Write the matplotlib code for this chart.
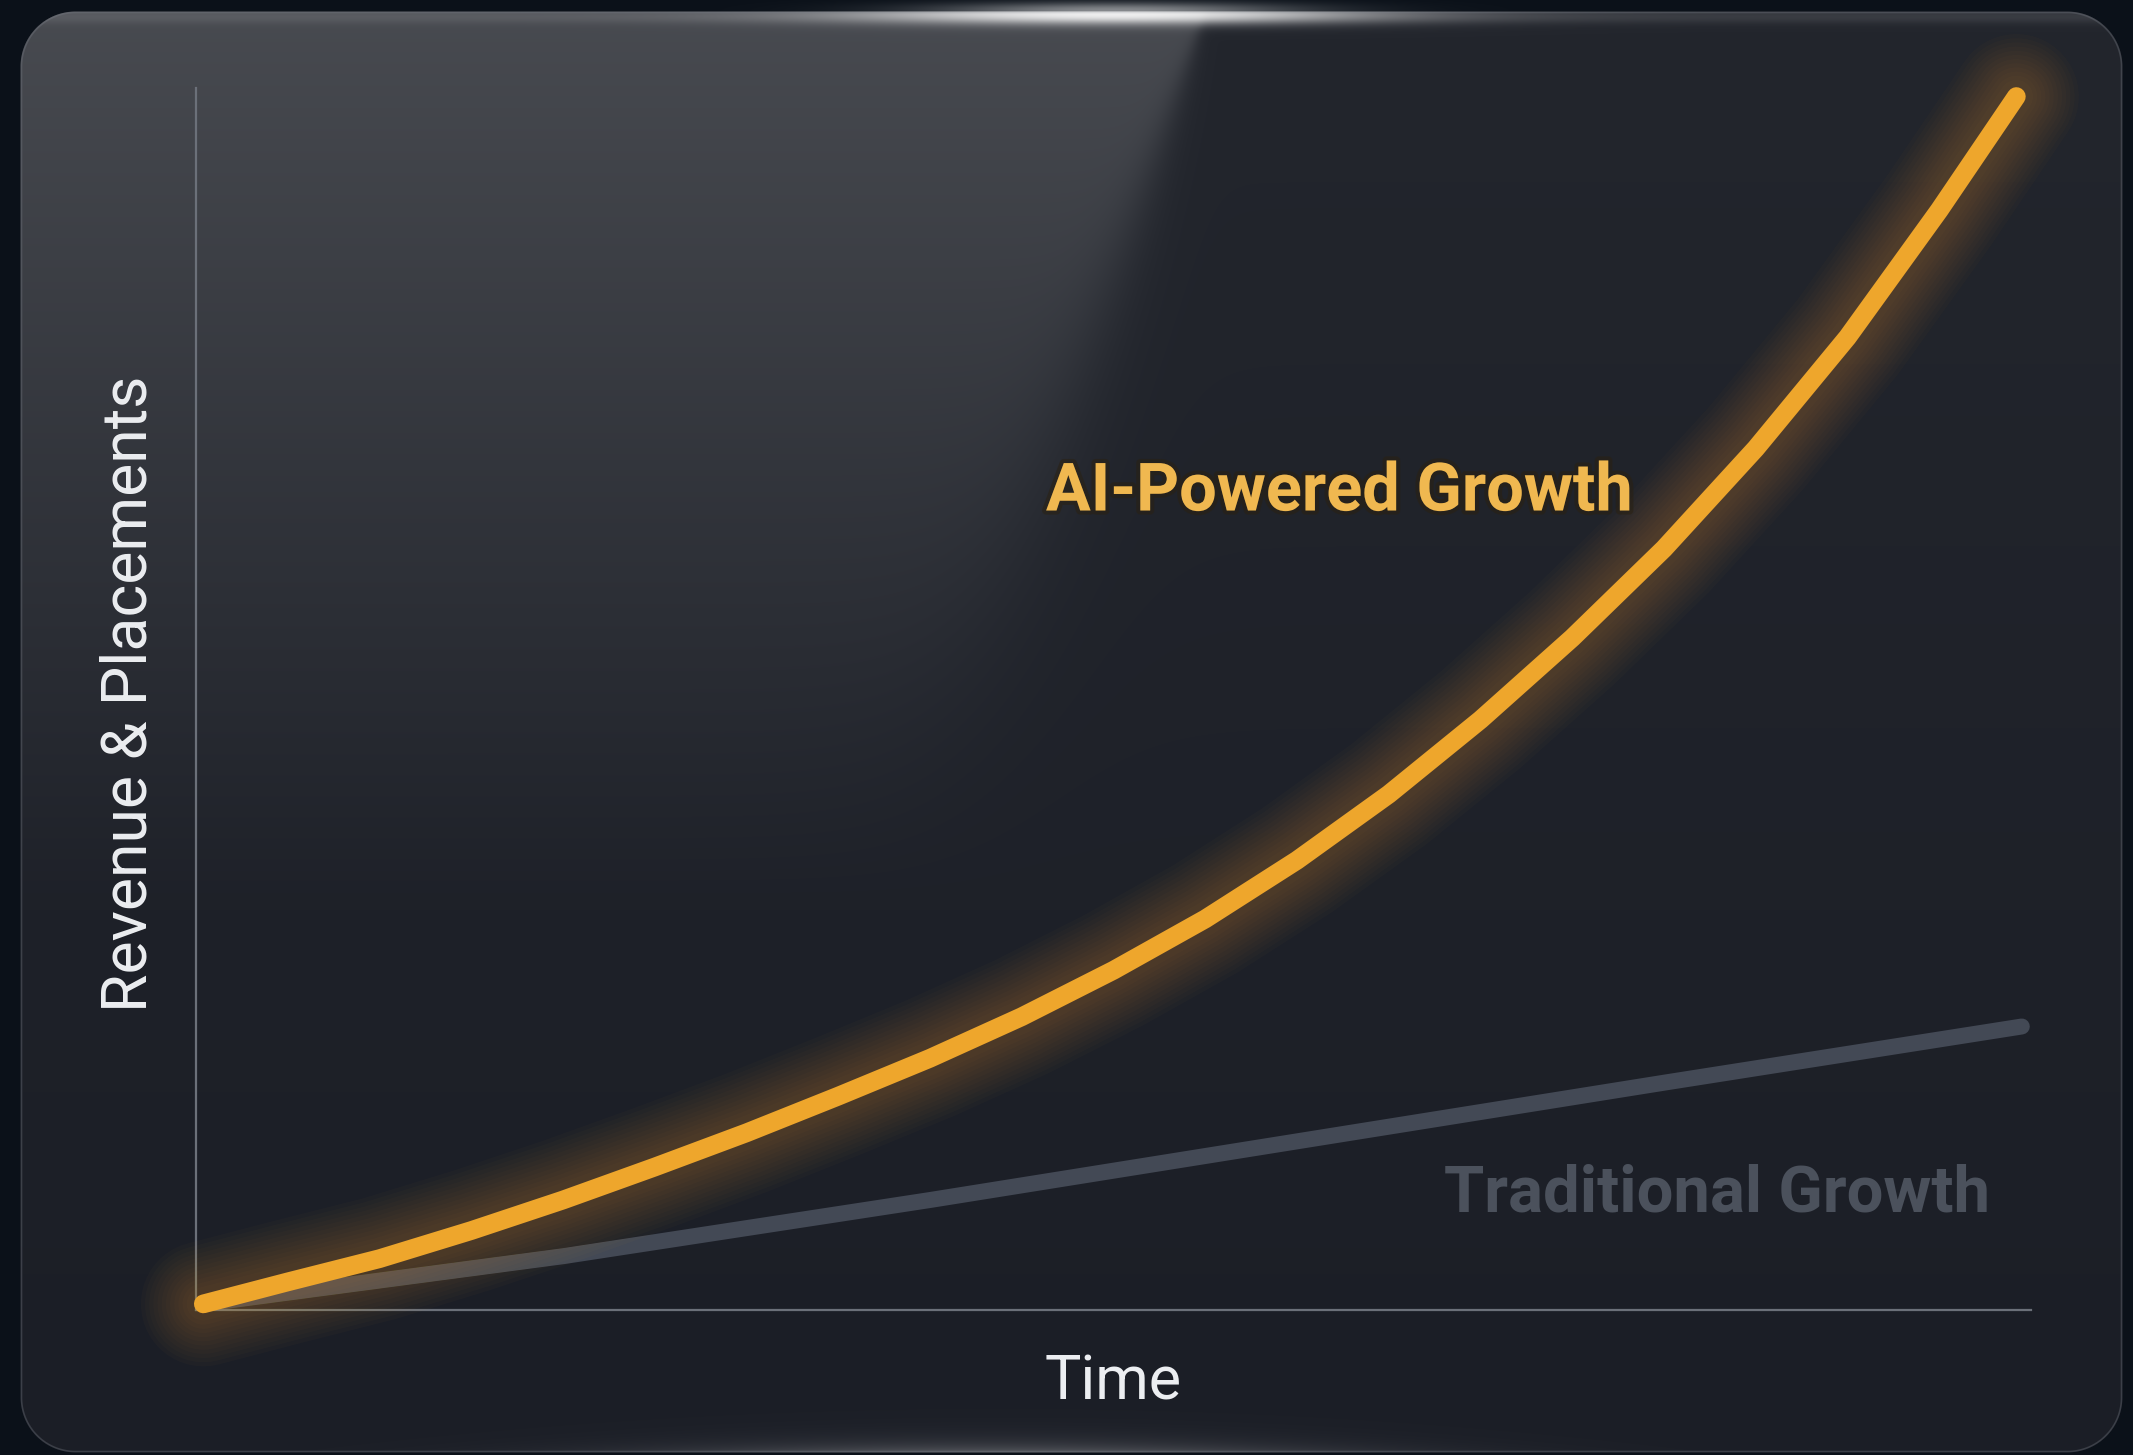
import numpy as np
import matplotlib
matplotlib.use("Agg")
import matplotlib.pyplot as plt
import matplotlib.patheffects as pe

# values (time in 0..10, value in 0..100)
time_ai = [0.04, 0.5, 1.0, 1.5, 2.0, 2.5, 3.0, 3.5, 4.0, 4.5, 5.0, 5.5,
           6.0, 6.5, 7.0, 7.5, 8.0, 8.5, 9.0, 9.5, 9.92]
ai_growth = [0.5, 2.3, 4.2, 6.5, 9.0, 11.7, 14.5, 17.5, 20.6, 24.0, 27.8, 32.0,
             36.8, 42.2, 48.3, 55.0, 62.3, 70.5, 79.6, 90.0, 99.3]
time_trad = [0.04, 2.0, 4.0, 6.0, 8.0, 9.95]
trad_growth = [0.5, 4.4, 9.0, 13.8, 18.6, 23.2]

ai_label = "AI-Powered Growth"
trad_label = "Traditional Growth"
xlabel = "Time"
ylabel = "Revenue & Placements"

W, H = 2133, 1455
fig = plt.figure(figsize=(W / 100, H / 100), dpi=100)
fig.patch.set_facecolor("#0b1119")

# ---- card background drawn as one image ----
yy, xx = np.mgrid[0:H, 0:W].astype(float)
x0, x1, y0, y1, r = 20, 2122, 11, 1452, 55
cx = np.clip(xx, x0 + r, x1 - r)
cy = np.clip(yy, y0 + r, y1 - r)
d = np.hypot(xx - cx, yy - cy) - r          # signed distance to card edge
inside = np.clip(0.5 - d, 0, 1)

outer = np.array([11, 17, 25]) / 255.0
top = np.array([35, 38, 45]) / 255.0
bot = np.array([27, 30, 38]) / 255.0
t = (yy / H)[..., None]
card = top * (1 - t) + bot * t

# diagonal glare on the upper left
edge = 1204 - 0.332 * (yy - 14)
soft = 2 + yy * 0.06
mask = 1 / (1 + np.exp((xx - edge) / soft))
strength = np.clip(0.17 * (1 - yy / 900), 0, None)
a = (mask * strength)[..., None]
card = card * (1 - a) + a
# faint glass band on the top edge
band = np.exp(-((yy - 16) / 7) ** 2) * 0.10
hl = np.exp(-((xx - 1115) / 260) ** 2) * np.exp(-((yy - 14) / 10) ** 2) * 0.75
a2 = np.clip(band + hl, 0, 1)[..., None]
card = card * (1 - a2) + a2
# bottom edge glow
bl = (np.exp(-((xx - 1000) / 350) ** 2) * np.exp(-(H - yy) / 10) * 0.35)[..., None]
card = card * (1 - bl) + bl

img = outer * (1 - inside[..., None]) + card * inside[..., None]
# thin border
border = np.clip(1.3 - np.abs(d + 1), 0, 1)[..., None] * 0.35
img = img * (1 - border) + np.array([120, 125, 135]) / 255.0 * border
# highlight spilling outside at top centre
glow_out = (np.exp(-((xx - 1115) / 180) ** 2) * np.exp(-((yy - 10) / 8) ** 2) * 0.5)[..., None]
img = img * (1 - glow_out) + glow_out

bg = fig.add_axes([0, 0, 1, 1])
bg.imshow(np.clip(img, 0, 1), extent=(0, W, H, 0), interpolation="bilinear")
bg.set_xlim(0, W)
bg.set_ylim(H, 0)
bg.axis("off")

# ---- chart ----
ax = fig.add_axes([196 / W, 1 - 1310 / H, (2031 - 196) / W, (1310 - 88) / H])
ax.set_facecolor("none")
ax.set_xlim(0, 10)
ax.set_ylim(0, 100)
for s in ["top", "right"]:
    ax.spines[s].set_visible(False)
for s in ["left", "bottom"]:
    ax.spines[s].set_color("#6b7079")
    ax.spines[s].set_linewidth(1.6)
ax.set_xticks([])
ax.set_yticks([])

# traditional line
ax.plot(time_trad, trad_growth, color="#434955", lw=11.5, solid_capstyle="round",
        solid_joinstyle="round", clip_on=False, zorder=2)

# soft glow under the AI line
for lw in range(90, 18, -6):
    ax.plot(time_ai, ai_growth, color="#f0a22a", lw=lw, alpha=0.022,
            solid_capstyle="round", solid_joinstyle="round", clip_on=False, zorder=3)
ax.plot(time_ai, ai_growth, color="#eea62c", lw=13.5, solid_capstyle="round",
        solid_joinstyle="round", clip_on=False, zorder=4)

glow = [pe.withStroke(linewidth=6, foreground="#2a2110", alpha=0.5)]
ax.text(6.23, 66.9, ai_label, color="#f0b850", fontsize=48, fontweight="bold",
        family="Roboto", ha="center", va="center", path_effects=glow, zorder=5)
ax.text(8.29, 9.5, trad_label, color="#4b515c", fontsize=47, fontweight="bold",
        family="Roboto", ha="center", va="center", zorder=5)

ax.set_xlabel(xlabel, fontsize=44, color="#eceef1", family="Roboto")
ax.xaxis.set_label_coords(0.5, -0.059)
ax.xaxis.label.set_va("center")
ax.set_ylabel(ylabel, fontsize=45, color="#eceef1", family="Roboto")
ax.yaxis.set_label_coords(-0.0365, 0.504)
ax.yaxis.label.set_va("center")

fig.savefig("out.png", dpi=100, facecolor=fig.get_facecolor())
